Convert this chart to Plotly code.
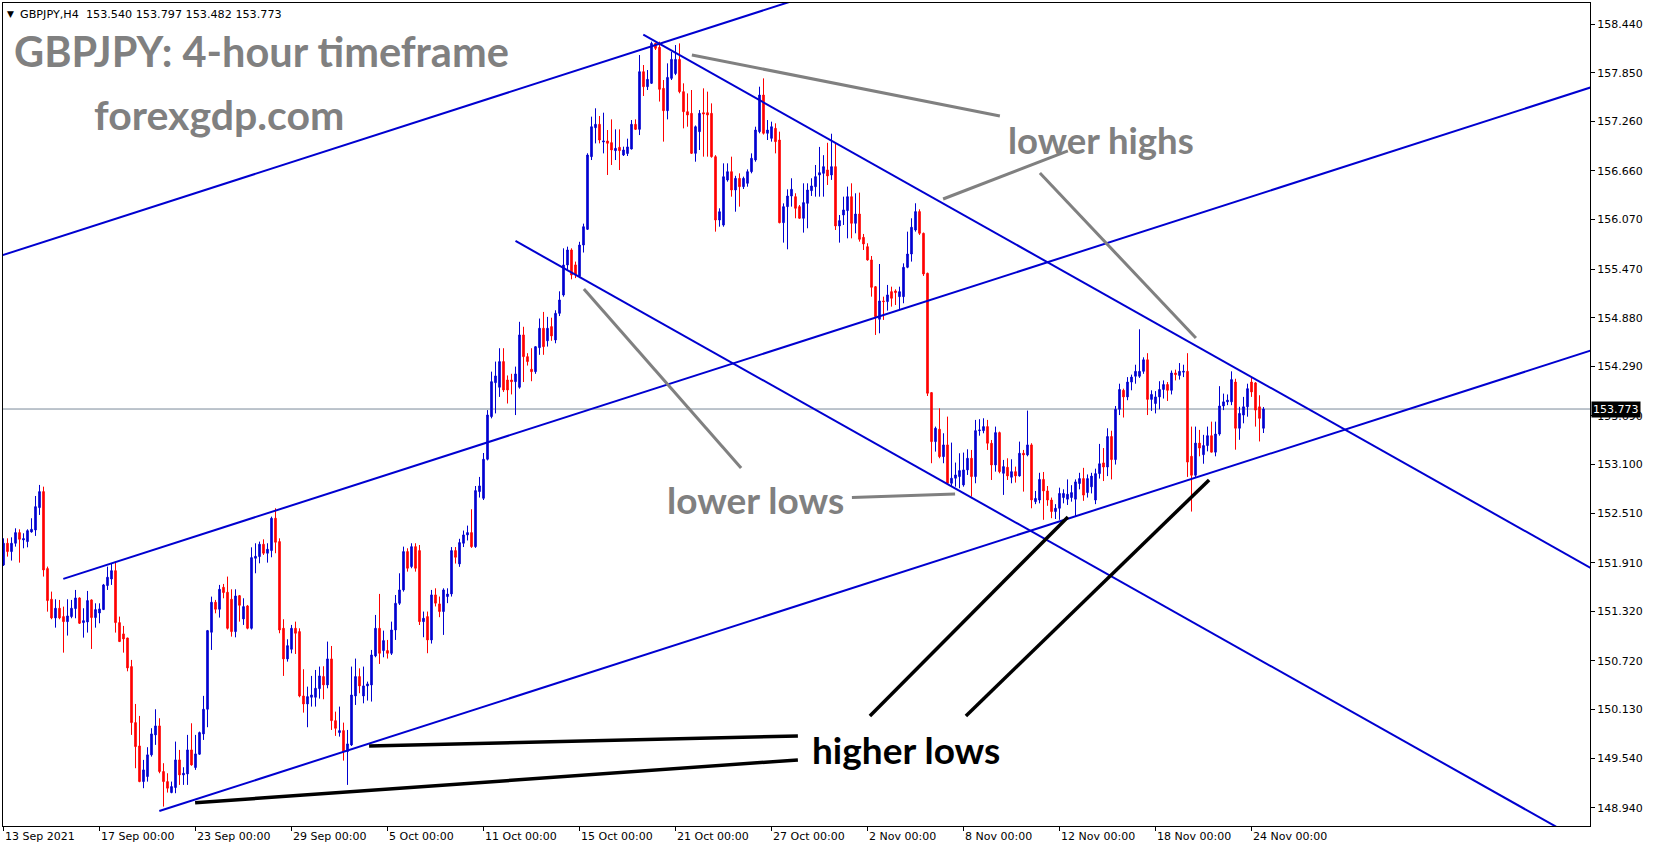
import plotly.graph_objects as go

# ---------------- data: GBPJPY H4 candles (bar index 0 = 13 Sep 2021 00:00) ----------------
open_ = [
 151.883,152.146,152.045,152.146,152.275,152.186,152.166,152.283,152.307,152.578,
 152.772,151.839,151.467,151.241,151.358,151.257,151.196,151.257,151.354,151.483,
 151.184,151.192,151.459,151.245,151.301,151.342,151.633,151.713,151.814,151.184,
 151.047,150.998,150.651,149.972,149.689,149.257,149.318,149.581,149.823,149.932,
 149.379,149.257,149.124,149.185,149.520,149.338,149.350,149.641,149.427,149.589,
 149.835,150.134,151.067,151.431,151.346,151.612,151.552,151.467,151.075,151.511,
 151.229,151.386,151.115,151.964,151.984,152.134,152.025,152.057,152.449,152.166,
 151.115,150.744,150.861,151.115,151.075,150.295,150.198,150.279,150.279,150.384,
 150.530,150.429,150.744,149.996,149.851,149.875,149.621,149.701,150.295,150.530,
 150.295,150.417,150.429,150.780,151.115,150.845,150.845,150.812,151.095,151.418,
 151.580,152.045,151.863,152.105,152.057,151.196,151.257,150.974,151.520,151.411,
 151.318,151.500,151.532,152.057,151.896,152.146,152.247,152.275,152.105,152.772,
 152.691,153.164,153.681,154.093,154.037,154.348,154.125,154.125,154.105,154.037,
 154.671,154.408,154.255,154.226,154.517,154.752,154.600,154.772,154.610,154.933,
 155.155,155.519,155.701,155.520,155.380,155.761,155.951,156.832,157.183,157.224,
 157.010,157.022,157.002,156.905,156.945,156.852,156.870,156.925,157.224,157.163,
 157.862,157.680,157.721,158.205,158.157,157.660,157.389,157.781,157.840,158.011,
 157.620,157.377,157.357,156.872,157.135,157.365,157.365,157.357,156.832,156.064,
 156.003,156.549,156.650,156.428,156.569,156.468,156.509,156.650,156.792,157.135,
 157.579,157.115,157.054,157.175,157.034,156.032,156.226,156.355,156.347,156.226,
 156.085,156.266,156.420,156.468,156.610,156.630,156.671,156.610,156.711,155.992,
 156.125,156.178,156.347,156.024,156.137,155.854,155.741,155.580,155.256,154.861,
 155.083,155.075,155.196,155.204,155.135,155.135,155.491,155.652,155.943,156.166,
 155.903,155.418,153.972,153.378,153.528,153.196,153.338,152.873,152.934,152.954,
 152.853,153.035,153.176,152.954,153.511,153.511,153.560,153.358,153.095,153.487,
 152.994,153.067,152.946,153.014,152.962,153.237,153.217,153.338,152.650,152.670,
 152.920,152.780,152.670,152.530,152.570,152.700,152.680,152.700,152.680,152.870,
 152.930,152.760,152.830,152.670,152.990,153.120,153.070,153.440,153.160,153.770,
 154.000,153.920,154.100,154.170,154.170,154.230,154.370,153.890,153.840,153.920,
 154.010,154.070,154.000,154.210,154.180,154.220,154.230,153.200,152.970,153.360,
 153.220,153.330,153.450,153.250,153.470,153.810,153.860,153.860,154.100,153.540,
 153.700,153.800,154.100,154.090,153.800,153.540]
high = [
 152.206,152.206,152.218,152.327,152.315,152.267,152.315,152.449,152.719,152.853,
 152.832,151.863,151.560,151.467,151.459,151.378,151.467,151.459,151.580,151.490,
 151.358,151.568,151.465,151.418,151.418,151.653,151.863,151.903,151.923,151.257,
 151.144,151.000,150.732,150.198,150.053,149.520,149.674,149.904,150.134,150.025,
 149.480,149.358,149.257,149.742,149.641,149.431,149.823,149.964,149.823,149.863,
 150.296,151.095,151.499,151.459,151.641,151.653,151.742,151.588,151.588,151.519,
 151.479,151.398,152.097,152.146,152.166,152.194,152.146,152.469,152.570,152.206,
 151.225,150.982,151.156,151.196,151.115,150.619,150.408,150.538,150.610,150.651,
 150.655,150.954,150.901,150.105,150.166,149.972,149.883,150.651,150.748,150.630,
 150.651,150.469,150.853,151.277,151.532,151.087,150.974,151.196,151.519,151.782,
 152.105,152.085,152.146,152.146,152.125,151.318,151.318,151.580,151.600,151.500,
 151.600,151.600,152.100,152.100,152.200,152.300,152.360,152.558,152.840,152.950,
 153.240,153.760,154.226,154.348,154.510,154.510,154.180,154.200,154.287,154.830,
 154.770,154.450,154.510,154.530,154.870,154.950,154.890,154.880,154.970,155.200,
 155.721,155.741,155.721,155.560,155.800,156.020,156.873,157.317,157.418,157.325,
 157.365,157.155,157.284,157.163,157.163,156.953,157.050,157.276,157.284,158.064,
 157.943,157.882,158.226,158.213,158.226,157.761,157.963,158.104,158.185,158.205,
 157.721,157.599,157.640,157.210,157.397,157.660,157.620,157.478,156.850,156.206,
 156.751,156.751,156.832,156.600,156.630,156.590,156.678,156.872,157.195,157.680,
 157.781,157.276,157.256,157.236,157.135,156.266,156.436,156.570,156.388,156.246,
 156.509,156.509,156.570,156.731,156.950,156.850,157.000,157.110,157.000,156.125,
 156.347,156.469,156.509,156.388,156.396,155.895,155.782,155.628,155.264,155.531,
 155.135,155.277,155.256,155.224,155.256,155.539,155.923,156.085,156.267,156.194,
 155.911,155.426,153.972,153.560,153.782,153.479,153.681,153.366,153.124,153.237,
 153.245,153.285,153.277,153.641,153.650,153.661,153.641,153.398,153.560,153.499,
 153.156,153.176,153.164,153.075,153.378,153.277,153.754,153.358,152.780,153.000,
 153.010,152.840,152.700,152.620,152.820,152.800,152.920,152.850,152.920,153.000,
 153.060,152.980,153.000,153.050,153.350,153.300,153.540,153.510,153.810,154.080,
 154.020,154.160,154.190,154.310,154.740,154.400,154.450,154.000,153.990,154.110,
 154.120,154.100,154.240,154.250,154.330,154.310,154.450,153.560,153.560,153.520,
 153.460,153.560,153.620,153.620,154.050,153.960,153.950,154.230,154.140,153.800,
 153.920,154.080,154.150,154.100,153.940,153.797]
low = [
 151.871,151.984,151.936,152.105,151.911,152.085,152.097,152.275,152.235,152.489,
 151.742,151.317,151.225,151.123,151.225,150.820,151.027,151.237,151.237,151.168,
 151.002,151.063,150.865,151.123,151.176,151.338,151.580,151.641,151.063,150.950,
 150.820,150.594,149.823,149.419,149.250,149.177,149.257,149.560,149.702,149.358,
 148.954,149.124,149.116,149.116,149.217,149.217,149.217,149.450,149.399,149.581,
 149.762,149.916,150.853,151.297,151.245,151.479,151.100,151.014,151.006,151.196,
 151.156,151.103,151.100,151.782,151.903,152.004,151.911,151.976,152.025,151.055,
 150.538,150.711,150.812,150.804,150.279,150.093,149.916,150.166,150.166,150.263,
 150.255,150.388,149.883,149.811,149.802,149.511,149.217,149.689,150.186,150.328,
 150.206,150.239,150.227,150.764,150.683,150.764,150.748,150.792,150.974,151.398,
 151.560,151.802,151.843,151.802,151.155,151.007,150.813,150.930,151.380,151.250,
 151.035,151.420,151.500,151.900,151.860,152.100,152.180,152.090,152.090,152.700,
 152.670,153.150,153.660,153.720,153.920,153.980,153.840,153.950,153.700,154.020,
 154.100,154.300,154.110,154.200,154.430,154.430,154.530,154.600,154.570,154.900,
 155.135,155.458,155.345,155.360,155.360,155.670,155.943,156.791,156.993,156.993,
 156.872,156.610,156.731,156.791,156.670,156.840,156.840,156.920,157.155,157.094,
 157.567,157.640,157.713,158.125,157.500,157.014,157.284,157.761,157.820,157.600,
 157.175,157.195,156.864,156.771,156.913,156.832,156.832,156.820,155.923,155.983,
 155.983,156.529,156.347,156.165,156.226,156.440,156.468,156.630,156.771,157.115,
 157.100,157.034,157.014,156.872,156.024,155.790,155.709,156.226,156.085,156.080,
 155.911,155.964,156.356,156.347,156.347,156.347,156.489,156.550,155.943,155.790,
 156.004,155.842,155.842,155.903,155.802,155.701,155.572,155.135,154.671,154.691,
 154.853,154.966,155.014,155.034,154.982,155.055,155.480,155.560,155.923,155.883,
 155.386,153.931,153.116,153.257,153.176,153.116,152.853,152.832,152.832,152.812,
 152.832,152.974,152.711,152.873,153.450,153.479,153.277,152.913,153.014,152.994,
 152.732,152.913,152.873,152.881,152.954,152.772,153.200,152.570,152.620,152.630,
 152.430,152.600,152.450,152.440,152.430,152.630,152.610,152.650,152.470,152.800,
 152.660,152.700,152.750,152.620,152.930,152.900,152.960,152.920,153.100,153.700,
 153.670,153.880,154.000,154.080,154.150,154.200,153.700,153.750,153.720,153.770,
 153.900,153.870,153.950,154.120,154.130,154.160,152.950,152.530,152.950,153.200,
 153.110,153.260,153.250,153.200,153.450,153.760,153.820,153.820,153.280,153.400,
 153.600,153.680,153.920,153.560,153.380,153.482]
close = [
 152.146,152.045,152.146,152.275,152.194,152.202,152.299,152.315,152.590,152.772,
 151.822,151.451,151.241,151.358,151.241,151.196,151.265,151.358,151.483,151.176,
 151.208,151.451,151.245,151.342,151.350,151.641,151.734,151.814,151.184,150.954,
 150.986,150.635,149.972,149.681,149.257,149.399,149.581,149.835,149.932,149.379,
 149.257,149.177,149.197,149.520,149.338,149.358,149.641,149.459,149.593,149.851,
 150.134,151.087,151.431,151.346,151.588,151.548,151.115,151.075,151.507,151.394,
 151.378,151.115,151.972,151.988,152.134,152.025,152.073,152.449,152.158,151.095,
 150.744,150.905,151.115,151.055,150.295,150.198,150.287,150.307,150.388,150.538,
 150.429,150.744,149.996,149.903,149.875,149.621,149.714,150.307,150.530,150.417,
 150.417,150.441,150.792,151.115,150.812,150.966,150.812,151.095,151.418,151.580,
 152.045,151.843,152.105,151.843,151.196,151.237,150.974,151.520,151.420,151.318,
 151.580,151.530,152.057,151.976,152.154,152.247,152.275,152.105,152.784,152.841,
 153.164,153.701,154.105,154.174,154.348,154.004,154.004,154.105,154.198,154.671,
 154.408,154.348,154.226,154.529,154.752,154.529,154.752,154.659,154.933,155.095,
 155.519,155.701,155.398,155.400,155.761,155.983,156.852,157.195,157.224,157.034,
 157.022,156.994,156.913,156.933,156.905,156.913,156.950,157.224,157.163,157.862,
 157.680,157.769,158.205,158.145,157.648,157.389,157.793,158.011,158.011,157.620,
 157.377,157.337,156.872,157.195,157.357,157.349,157.337,156.832,156.064,156.165,
 156.589,156.650,156.428,156.569,156.468,156.569,156.650,156.812,157.155,157.579,
 157.115,157.155,157.195,157.014,156.032,156.226,156.355,156.436,156.206,156.085,
 156.275,156.428,156.477,156.590,156.638,156.711,156.598,156.711,155.992,156.057,
 156.186,156.347,156.024,156.137,155.830,155.774,155.580,155.248,154.893,155.083,
 155.075,155.156,155.115,155.184,155.196,155.491,155.652,155.976,156.166,155.903,
 155.410,153.964,153.378,153.540,153.196,153.338,152.873,152.934,152.974,153.027,
 153.035,153.176,152.954,153.511,153.519,153.560,153.358,153.095,153.487,153.014,
 153.075,152.962,153.014,152.962,153.237,153.217,153.338,152.671,152.690,152.920,
 152.780,152.670,152.530,152.570,152.750,152.750,152.740,152.760,152.890,152.930,
 152.730,152.930,152.960,152.990,153.110,153.070,153.440,153.160,153.770,154.010,
 153.920,154.100,154.160,154.230,154.230,154.370,153.890,153.950,153.920,154.010,
 154.070,154.000,154.210,154.190,154.230,154.230,153.130,152.970,153.360,153.300,
 153.330,153.450,153.250,153.470,153.810,153.860,153.880,154.130,153.540,153.720,
 153.800,154.020,153.980,153.760,153.660,153.773]
bars = list(range(len(close)))

# time-axis labels (every 24 bars)
date_label_bars = [0, 24, 48, 72, 96, 120, 144, 168, 192, 216, 240, 264, 288, 312]
date_labels = ["13 Sep 2021", "17 Sep 00:00", "23 Sep 00:00", "29 Sep 00:00", "5 Oct 00:00",
               "11 Oct 00:00", "15 Oct 00:00", "21 Oct 00:00", "27 Oct 00:00", "2 Nov 00:00",
               "8 Nov 00:00", "12 Nov 00:00", "18 Nov 00:00", "24 Nov 00:00"]
# price-axis labels
price_ticks = [158.44, 157.85, 157.26, 156.66, 156.07, 155.47, 154.88, 154.29, 153.69,
               153.10, 152.51, 151.91, 151.32, 150.72, 150.13, 149.54, 148.94]
price_tick_text = ["%.3f" % v for v in price_ticks]
last_price = 153.773
header_text = "GBPJPY,H4\u00a0\u00a0153.540 153.797 153.482 153.773"

# trend lines: (bar, price) anchor pairs
channel_lines = [
    [(-5, 155.564), (200, 158.762)],
    [(14.95, 151.714), (400, 157.721)],
    [(38.95, 148.900), (400, 154.532)],
    [(159.95, 158.310), (400, 151.759)],
    [(128.0, 155.810), (400, 148.387)],
]
# annotation pointer lines: (bar, price) anchor pairs
grey_pointers = [
    [(172.1, 158.064), (249.1, 157.325)],
    [(234.9, 156.319), (266.1, 156.901)],
    [(259.1, 156.634), (298.1, 154.634)],
    [(145.1, 155.228), (184.4, 153.059)],
    [(212.1, 152.701), (237.9, 152.744)],
]
black_pointers = [
    [(91.4, 149.690), (198.6, 149.810)],
    [(47.9, 149.000), (198.6, 149.520)],
    [(216.6, 150.053), (266.1, 152.465)],
    [(240.6, 150.053), (301.4, 152.913)],
]

# ---------------- figure ----------------
W, H = 1653, 850
ML, MR, MT, MB = 3, 63, 3, 24
PW, PH = W - ML - MR, H - MT - MB
BLUE = "#0000D0"
RED = "#FF0000"


def pxx(px):
    return (px - ML) / PW


def pxy(py):
    return (H - MB - py) / PH


fig = go.Figure()
fig.add_trace(go.Candlestick(
    x=bars, open=open_, high=high, low=low, close=close,
    increasing=dict(line=dict(color=BLUE, width=1), fillcolor=BLUE),
    decreasing=dict(line=dict(color=RED, width=1), fillcolor=RED),
    whiskerwidth=0, hoverinfo="skip", showlegend=False))

for seg in channel_lines:
    fig.add_trace(go.Scatter(x=[seg[0][0], seg[1][0]], y=[seg[0][1], seg[1][1]], mode="lines",
                             line=dict(color=BLUE, width=2), hoverinfo="skip", showlegend=False))
for seg in grey_pointers:
    fig.add_trace(go.Scatter(x=[seg[0][0], seg[1][0]], y=[seg[0][1], seg[1][1]], mode="lines",
                             line=dict(color="#808080", width=3), hoverinfo="skip", showlegend=False))
for seg in black_pointers:
    fig.add_trace(go.Scatter(x=[seg[0][0], seg[1][0]], y=[seg[0][1], seg[1][1]], mode="lines",
                             line=dict(color="#000000", width=3.5), hoverinfo="skip", showlegend=False))

x0 = -0.125
x1 = x0 + PW / 4.0
y_top = 158.44 + (24 - MT) / 82.5
y_bot = 158.44 - (H - MB - 24) / 82.5

annotations = []
for b, t in zip(date_label_bars, date_labels):
    annotations.append(dict(x=b, xref="x", y=pxy(837), yref="paper", text=t, showarrow=False,
                            xanchor="left", yanchor="middle", xshift=-1,
                            font=dict(family="DejaVu Sans", size=11, color="black")))
annotations.append(dict(x=1, xref="paper", y=last_price, yref="y", text=str(last_price), showarrow=False,
                        xanchor="left", yanchor="middle", xshift=1, bgcolor="black", borderpad=1,
                        font=dict(family="DejaVu Sans", size=11, color="white")))
annotations.append(dict(x=pxx(5), xref="paper", y=pxy(14), yref="paper",
                        text="\u25bc", showarrow=False, xanchor="left", yanchor="middle",
                        font=dict(family="DejaVu Sans", size=9, color="black")))
annotations.append(dict(x=pxx(18), xref="paper", y=pxy(14), yref="paper",
                        text=header_text, showarrow=False, xanchor="left", yanchor="middle",
                        font=dict(family="DejaVu Sans", size=11.2, color="black")))
big_font = "Lato"
annotations.append(dict(x=pxx(261), xref="paper", y=pxy(51), yref="paper",
                        text="<b>GBPJPY: 4-hour timeframe</b>", showarrow=False, xanchor="center", yanchor="middle",
                        font=dict(family=big_font, size=41.5, color="#808080")))
annotations.append(dict(x=pxx(219), xref="paper", y=pxy(114), yref="paper",
                        text="<b>forexgdp.com</b>", showarrow=False, xanchor="center", yanchor="middle",
                        font=dict(family=big_font, size=41, color="#808080")))
annotations.append(dict(x=pxx(1101), xref="paper", y=pxy(140), yref="paper",
                        text="<b>lower highs</b>", showarrow=False, xanchor="center", yanchor="middle",
                        font=dict(family=big_font, size=36.5, color="#808080")))
annotations.append(dict(x=pxx(755), xref="paper", y=pxy(499), yref="paper",
                        text="<b>lower lows</b>", showarrow=False, xanchor="center", yanchor="middle",
                        font=dict(family=big_font, size=37, color="#808080")))
annotations.append(dict(x=pxx(906), xref="paper", y=pxy(749), yref="paper",
                        text="<b>higher lows</b>", showarrow=False, xanchor="center", yanchor="middle",
                        font=dict(family=big_font, size=37, color="#000000")))

fig.update_layout(
    width=W, height=H, margin=dict(l=ML, r=MR, t=MT, b=MB, pad=0),
    paper_bgcolor="white", plot_bgcolor="white", showlegend=False,
    xaxis=dict(range=[x0, x1], showgrid=False, zeroline=False, showline=True, mirror=True,
               linecolor="black", linewidth=1, ticks="outside", ticklen=4, tickcolor="black",
               tickvals=date_label_bars, showticklabels=False, rangeslider=dict(visible=False),
               fixedrange=True),
    yaxis=dict(range=[y_bot, y_top], side="right", showgrid=False, zeroline=False, showline=True,
               mirror=True, linecolor="black", linewidth=1, ticks="outside", ticklen=4,
               tickcolor="black", tickvals=price_ticks, ticktext=price_tick_text,
               tickfont=dict(family="DejaVu Sans", size=11, color="black"), fixedrange=True),
    shapes=[dict(type="line", xref="paper", x0=0, x1=1, yref="y", y0=last_price, y1=last_price,
                 line=dict(color="#7A8A99", width=1), layer="below")],
    annotations=annotations,
    boxgap=0.45,
)

fig.write_html("out.html", config={"displayModeBar": False},
               post_script="document.body.style.margin='0px';")
